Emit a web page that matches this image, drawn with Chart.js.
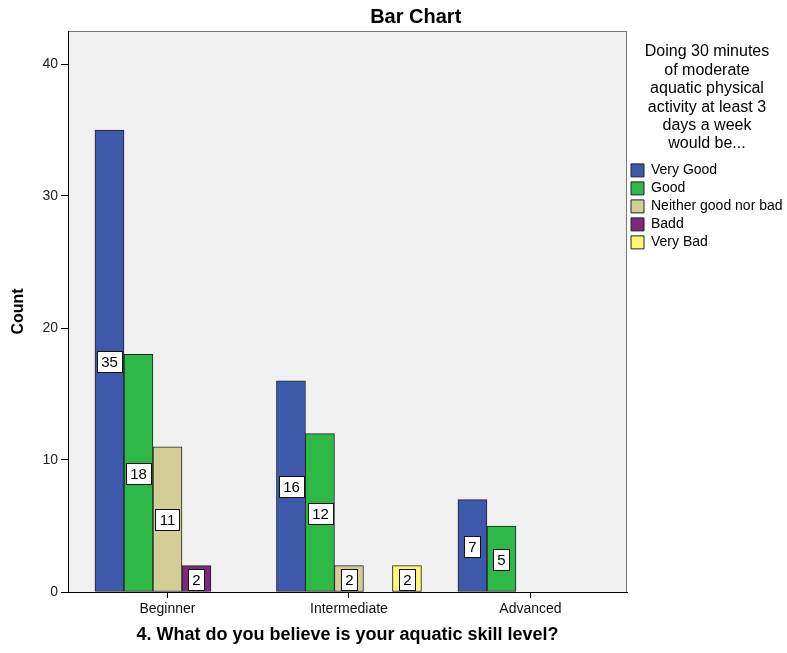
<!DOCTYPE html>
<html>
<head>
<meta charset="utf-8">
<script src="https://cdn.jsdelivr.net/npm/chart.js@4/dist/chart.umd.min.js"></script>
<style>
  body { margin: 0; background: #fff; }
  #wrap { width: 787px; height: 653px; }
</style>
</head>
<body>
<div id="wrap"><canvas id="bar-chart"></canvas></div>
<script>
const skillLevels = ['Beginner', 'Intermediate', 'Advanced'];
const answerNames = ['Very Good', 'Good', 'Neither good nor bad', 'Badd', 'Very Bad'];
const veryGood = [35, 16, 7];
const good = [18, 12, 5];
const neither = [11, 2, null];
const badd = [2, null, null];
const veryBad = [null, 2, null];
const countTicks = [0, 10, 20, 30, 40];
const legendTitle = ['Doing 30 minutes', 'of moderate', 'aquatic physical', 'activity at least 3', 'days a week', 'would be...'];

const colores = ['#3E58AC', '#2EB848', '#D3CE97', '#7C287D', '#FBF873'];
const FONT = '"Liberation Sans", Arial, sans-serif';

const serie = (vals) => vals.map((v, i) => ({x: i, y: v}));

const fondoPlot = {
	id: 'fondoPlot',
	beforeDraw(chart) {
		const {ctx, chartArea: a} = chart;
		ctx.save();
		ctx.fillStyle = '#F0F0F0';
		ctx.fillRect(a.left, a.top, a.right - a.left, a.bottom - a.top);
		ctx.strokeStyle = '#777';
		ctx.lineWidth = 1;
		ctx.strokeRect(a.left + 0.5, a.top + 0.5, a.right - a.left - 1, a.bottom - a.top);
		ctx.restore();
	}
};

const etiquetas = {
	id: 'etiquetas',
	afterDatasetsDraw(chart) {
		const ctx = chart.ctx;
		ctx.save();
		ctx.font = '15px ' + FONT;
		ctx.textAlign = 'center';
		ctx.textBaseline = 'middle';
		chart.data.datasets.forEach((ds, d) => {
			chart.getDatasetMeta(d).data.forEach((bar, i) => {
				const v = ds.data[i].y;
				if (v === null) return;
				const txt = String(v);
				const w = Math.round(ctx.measureText(txt).width + 8);
				const h = 21;
				const cx = Math.round(bar.x);
				const cy = Math.round((bar.y + bar.base) / 2);
				const x0 = Math.round(cx - w / 2), y0 = Math.round(cy - h / 2);
				ctx.fillStyle = '#fff';
				ctx.fillRect(x0, y0, w, h);
				ctx.strokeStyle = '#111';
				ctx.lineWidth = 1;
				ctx.strokeRect(x0 + 0.5, y0 + 0.5, w, h);
				ctx.fillStyle = '#000';
				ctx.fillText(txt, cx + 0.5, cy + 1.5);
			});
		});
		ctx.restore();
	}
};

const seriesData = [veryGood, good, neither, badd, veryBad];

let config = {
	type: 'bar',
	data: {
		datasets: seriesData.map((vals, k) => ({
			label: answerNames[k],
			data: serie(vals),
			backgroundColor: colores[k],
			borderColor: '#222',
			borderWidth: 1,
			borderSkipped: false,
			barThickness: 29
		}))
	},
	options: {
		responsive: true,
		maintainAspectRatio: false,
		animation: false,
		layout: {padding: {left: 0, right: 0, top: 0, bottom: 0}},
		plugins: {
			title: {
				display: true,
				text: '        Bar Chart',
				color: '#000',
				font: {family: FONT, size: 20, weight: 'bold'},
				padding: {top: 5, bottom: 2}
			},
			legend: {
				position: 'right',
				align: 'start',
				maxWidth: 160,
				title: {
					display: true,
					text: legendTitle,
					color: '#000',
					font: {family: FONT, size: 16, lineHeight: 1.15},
					padding: {top: 44, bottom: 97}
				},
				labels: {
					color: '#000',
					boxWidth: 13,
					boxHeight: 13,
					padding: 4,
					font: {family: FONT, size: 14}
				}
			},
			tooltip: {enabled: false}
		},
		scales: {
			x: {
				type: 'linear',
				offset: false,
				min: -0.548,
				max: 2.532,
				afterBuildTicks: (s) => { s.ticks = skillLevels.map((_, i) => ({value: i})); },
				afterFit: (s) => { s.height = 61; },
				grid: {drawOnChartArea: false, offset: false, tickLength: 6, color: '#000'},
				border: {color: '#000', width: 1},
				ticks: {
					color: '#111',
					padding: 3,
					font: {family: FONT, size: 14},
					callback: (v) => skillLevels[v] || ''
				},
				title: {
					display: true,
					text: '4. What do you believe is your aquatic skill level?',
					color: '#000',
					font: {family: FONT, size: 18, weight: 'bold'},
					padding: {top: 0, bottom: 7}
				}
			},
			y: {
				min: 0,
				max: 42.5,
				afterBuildTicks: (s) => { s.ticks = countTicks.map(v => ({value: v})); },
				afterFit: (s) => { s.width = 68; },
				grid: {drawOnChartArea: false, tickLength: 7, color: '#000'},
				border: {color: '#000', width: 1},
				ticks: {color: '#222', padding: 3, font: {family: FONT, size: 14}},
				title: {
					display: true,
					text: 'Count',
					color: '#000',
					font: {family: FONT, size: 16, weight: 'bold'},
					padding: {top: 9, bottom: 0}
				}
			}
		}
	},
	plugins: [fondoPlot, etiquetas]
};

const myChart = new Chart(document.getElementById('bar-chart'), config);
</script>
</body>
</html>
